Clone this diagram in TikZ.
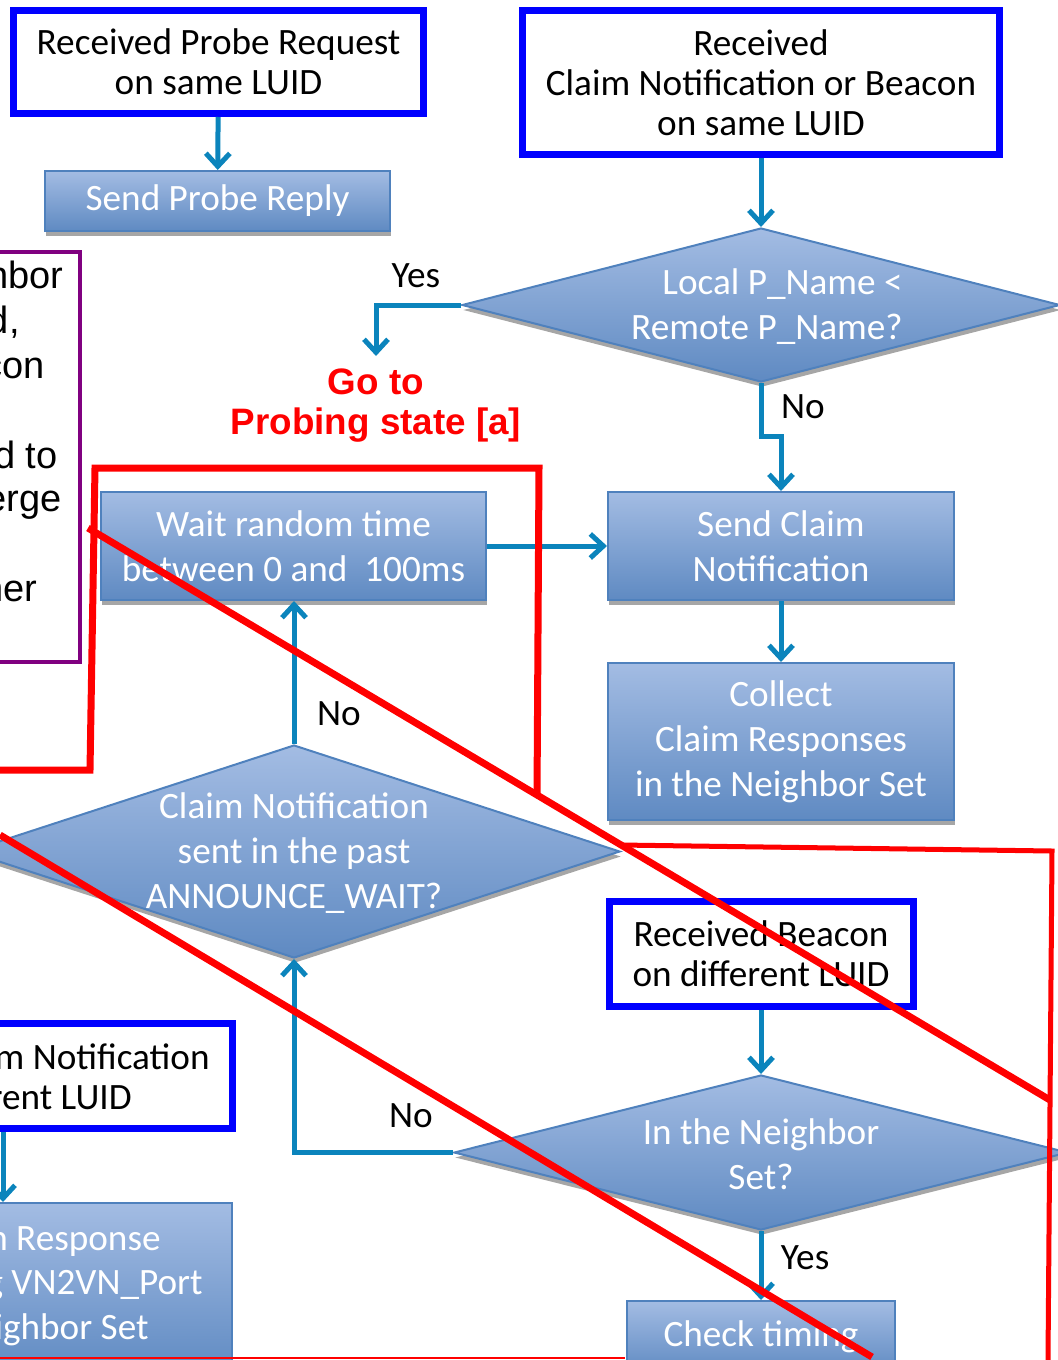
\documentclass[tikz,border=0pt]{standalone}
\usepackage{fontspec}
\setmainfont{Carlito}
\newfontfamily\arialfont{Liberation Sans}
\usepackage{tikz}
\usetikzlibrary{shapes.geometric, arrows.meta, shadows}

\definecolor{linkblue}{HTML}{0B84BC}
\definecolor{fillTop}{HTML}{A3BCE3}
\definecolor{fillBot}{HTML}{5F8AC2}
\definecolor{edgeblue}{HTML}{4F81BD}
\definecolor{markpurple}{HTML}{800080}

\begin{document}
\begin{tikzpicture}[x=0.5pt, y=-0.5pt,
    font=\fontsize{18.6}{20}\selectfont,
    event/.style={draw=blue, line width=3.5pt, fill=white, align=center, inner sep=0pt},
    action/.style={draw=edgeblue, line width=1pt, top color=fillTop, bottom color=fillBot,
        text=white, align=center, inner sep=0pt, font=\fontsize{18.6}{22.5}\selectfont,
        drop shadow={shadow xshift=0.5pt, shadow yshift=-2.5pt, fill=black!35, opacity=1}},
    decision/.style={action, diamond},
    intext/.style={text=white, align=center, inner sep=0pt, font=\fontsize{18.6}{22.5}\selectfont},
    cut/.style={anchor=base east, inner sep=0pt},
    conn/.style={draw=linkblue, line width=2.5pt, -{Straight Barb[length=6.5pt,width=12pt]}},
    answer/.style={inner sep=0pt},
    cross/.style={draw=red, line width=3.5pt}
]
    \path[use as bounding box, clip] (0,0) rectangle (1058,1360);

    % top row
    \node[event, minimum width=205pt, minimum height=51.5pt] (probereq) at (218.5,62) {Received Probe Request\\on same LUID};
    \node[action, minimum width=172.5pt, minimum height=30pt] (probereply) at (217.5,201) {Send Probe Reply};
    \node[event, minimum width=238.5pt, minimum height=72pt] (samerecv) at (761,82.5) {Received\\Claim Notification or Beacon\\on same LUID};

    \node[decision, minimum width=299pt, minimum height=77pt] (pname) at (761,305) {};
    \node[intext, align=right, anchor=east] (pnametxt) at (903,307) {Local P\_Name <\\Remote P\_Name?};
    \node[answer, anchor=north, align=center, text=red,
          font=\arialfont\bfseries\fontsize{18.4}{20}\selectfont] (probing) at (376,368) {Go to\\Probing state [a]};

    % middle
    \node[action, minimum width=192.5pt, minimum height=54pt] (waitrand) at (293.5,546) {Wait random time\\between 0 and\ \ 100ms};
    \node[action, minimum width=173pt, minimum height=54pt] (sendclaim) at (781,546) {Send Claim\\Notification};
    \node[action, minimum width=173pt, minimum height=78.5pt] (collect) at (781,741.5) {Collect\\Claim Responses\\in the Neighbor Set};

    \node[decision, minimum width=326pt, minimum height=106.5pt] (announce) at (294,851.5) {};
    \node[intext] (announcetxt) at (294,853.5) {Claim Notification\\sent in the past\\ANNOUNCE\_WAIT?};

    % bottom
    \node[event, minimum width=152pt, minimum height=52.5pt] (diffrecv) at (761,954) {Received Beacon\\on different LUID};
    \node[decision, minimum width=307pt, minimum height=77.5pt] (neighbor) at (761,1152.5) {};
    \node[intext] (neighbortxt) at (761,1154.5) {In the Neighbor\\Set?};
    \node[action, minimum width=134pt, minimum height=36pt] (timing) at (761,1337) {Check timing};

    % cut off on the left
    \node[draw=markpurple, line width=2pt, minimum width=190pt, minimum height=205pt, inner sep=0pt] (mergebox) at (-110,457) {};
    \node[cut, font=\arialfont\fontsize{19}{22.5}\selectfont] (merge1) at (64,288) {nbor};
    \node[cut, font=\arialfont\fontsize{19}{22.5}\selectfont] (merge2) at (20,333) {d,};
    \node[cut, font=\arialfont\fontsize{19}{22.5}\selectfont] (merge3) at (45,378) {con};
    \node[cut, font=\arialfont\fontsize{19}{22.5}\selectfont] (merge4) at (58,468) {d to};
    \node[cut, font=\arialfont\fontsize{19}{22.5}\selectfont] (merge5) at (62,511) {erge};
    \node[cut, font=\arialfont\fontsize{19}{22.5}\selectfont] (merge6) at (38,601) {ner};

    \node[event, minimum width=229.5pt, minimum height=52.5pt] (claimdiff) at (3,1076) {};
    \node[cut] (claimdiff1) at (210,1069) {m Notification};
    \node[cut] (claimdiff2) at (132,1109) {rent LUID};
    \node[action, minimum width=229pt, minimum height=86pt] (claimresp) at (3,1289) {};
    \node[cut, text=white] (claimresp1) at (161,1250) {n Response};
    \node[cut, text=white] (claimresp2) at (203,1294) {g VN2VN\_Port};
    \node[cut, text=white] (claimresp3) at (149,1339) {ighbor Set};

    % connectors
    \draw[conn] (probereq) -- (probereply);
    \draw[conn] (samerecv) -- (pname);
    \draw[conn] (pname.west) -| ([yshift=6pt]probing.north);
    \node[answer] (yes1) at (416,276) {Yes};
    \draw[conn] (pname.south) -- ++(0,53) -| (sendclaim.north);
    \node[answer] (no1) at (803,407) {No};
    \draw[conn] (waitrand) -- (sendclaim);
    \draw[conn] (sendclaim) -- (collect);
    \draw[conn] (announce.north) -- (announce.north |- waitrand.south);
    \node[answer] (no2) at (339,714) {No};
    \draw[conn] (diffrecv) -- (neighbor);
    \draw[conn] (neighbor.west) -| (announce.south);
    \node[answer] (no3) at (411,1116) {No};
    \draw[conn] (neighbor.south) -- (timing.north);
    \node[answer] (yes2) at (805,1258) {Yes};
    \draw[conn] (claimdiff) -- (claimresp);

    % red marks over the chart
    \draw[cross] (0,770) -- (90,770) -- (95,468) -- (539,468) -- (537,797);
    \draw[cross] (88,528) -- (1050,1100);
    \draw[cross] (0,835) -- (872,1357);
    \draw[cross, line width=2.5pt] (620,845) -- (1052,851) -- (1048,1360);
    \draw[red, line width=1pt] (0,1358) -- (625,1358);
\end{tikzpicture}
\end{document}
